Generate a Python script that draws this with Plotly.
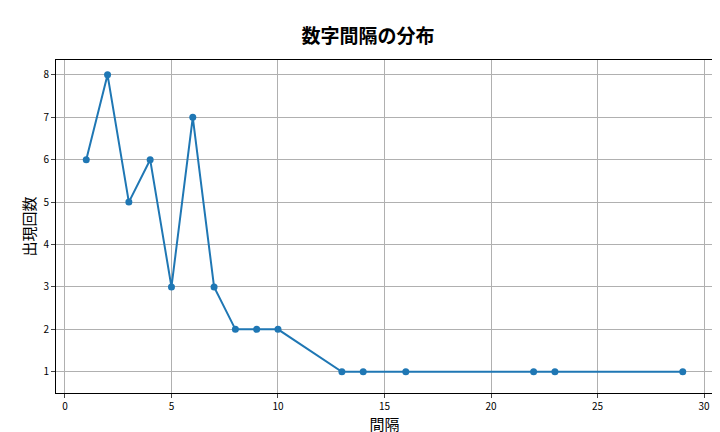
import plotly.graph_objects as go

intervals = [1, 2, 3, 4, 5, 6, 7, 8, 9, 10, 13, 14, 16, 22, 23, 29]
counts = [6, 8, 5, 6, 3, 7, 3, 2, 2, 2, 1, 1, 1, 1, 1, 1]

axis_style = dict(showgrid=True, gridcolor='#b0b0b0', gridwidth=1,
                  showline=True, linecolor='black', mirror=True,
                  ticks='outside', ticklen=4, zeroline=False, automargin=False,
                  tickfont=dict(size=10, color='black'))

fig = go.Figure(go.Scatter(
    x=intervals, y=counts, mode='lines+markers',
    line=dict(color='#1f77b4', width=2),
    marker=dict(size=7, color='#1f77b4'),
))

fig.update_layout(
    width=720, height=432,
    plot_bgcolor='white', paper_bgcolor='white',
    font=dict(family='Noto Sans CJK JP'),
    title=dict(text='<b>数字間隔の分布</b>', x=0.5, y=0.95, xanchor='center',
               font=dict(size=19, color='black')),
    margin=dict(l=48, r=15, t=52, b=47),
    showlegend=False,
)
fig.update_xaxes(range=[-0.42, 30.42], tickvals=[0, 5, 10, 15, 20, 25, 30],
                 title=dict(text='間隔', font=dict(size=15, color='black'), standoff=2),
                 **axis_style)
fig.update_yaxes(range=[0.5, 8.35], dtick=1,
                 title=dict(text='出現回数', font=dict(size=15, color='black'), standoff=4),
                 **axis_style)

fig.write_html("out.html")
